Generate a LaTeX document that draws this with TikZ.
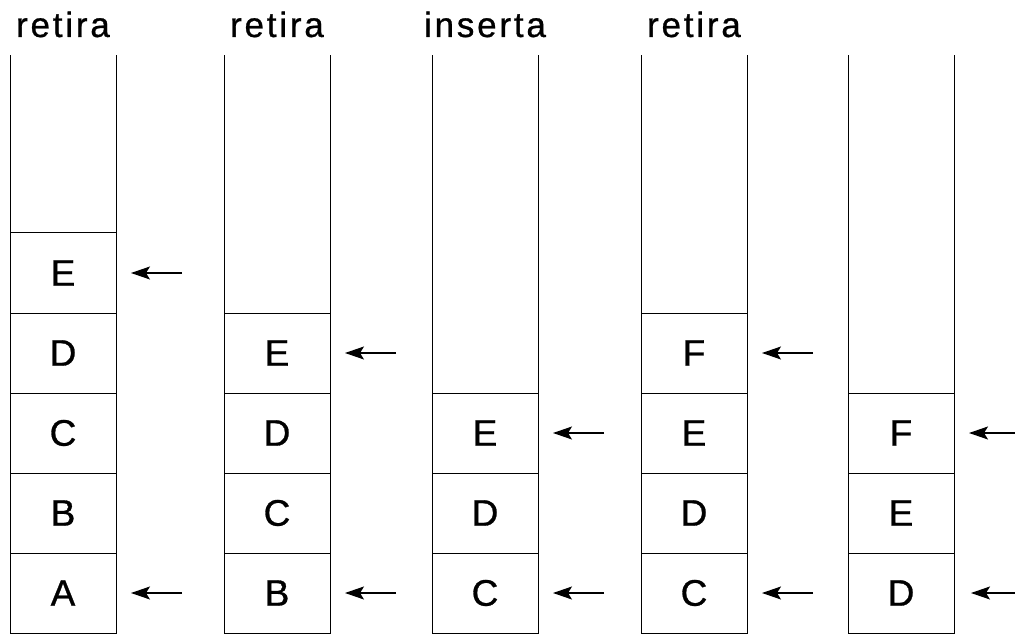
\documentclass[tikz,border=0pt]{standalone}
\usepackage{fontspec}
\setmainfont{Liberation Sans}
\usetikzlibrary{arrows.meta,positioning}
\tikzstyle{Cell}  = [draw, rectangle, line width=1pt, minimum width=106pt, minimum height=80pt, inner sep=0pt, outer sep=0pt, font=\fontsize{37}{42}\selectfont\addfontfeature{FakeBold=0.8}]
\tikzstyle{Wall}  = [line width=1pt]
\tikzstyle{Label} = [anchor=base, font=\fontsize{35}{40}\selectfont\addfontfeature{LetterSpace=8,FakeBold=0.8}]
\tikzset{Ptr/.style={line width=1.2pt, arrows={-Stealth[length=19pt,width=13pt,inset=4pt]}}}

\begin{document}
\begin{tikzpicture}[x=1pt, y=1pt]
    \useasboundingbox (0,0) rectangle (1015,633);
    \coordinate (top) at (0,578);

    % first stack
    \node[Cell] (a1) at (63,40)     {A};
    \node[Cell] (a2) [above=0pt of a1] {B};
    \node[Cell] (a3) [above=0pt of a2] {C};
    \node[Cell] (a4) [above=0pt of a3] {D};
    \node[Cell] (a5) [above=0pt of a4] {E};
    % second stack
    \node[Cell] (b1) at (277,40)    {B};
    \node[Cell] (b2) [above=0pt of b1] {C};
    \node[Cell] (b3) [above=0pt of b2] {D};
    \node[Cell] (b4) [above=0pt of b3] {E};
    % third stack
    \node[Cell] (c1) at (485,40)    {C};
    \node[Cell] (c2) [above=0pt of c1] {D};
    \node[Cell] (c3) [above=0pt of c2] {E};
    % fourth stack
    \node[Cell] (d1) at (694,40)    {C};
    \node[Cell] (d2) [above=0pt of d1] {D};
    \node[Cell] (d3) [above=0pt of d2] {E};
    \node[Cell] (d4) [above=0pt of d3] {F};
    % fifth stack
    \node[Cell] (e1) at (901,40)    {D};
    \node[Cell] (e2) [above=0pt of e1] {E};
    \node[Cell] (e3) [above=0pt of e2] {F};

    % tube walls
    \draw[Wall] (a1.south west) -- (a1.south west |- top);
    \draw[Wall] (a1.south east) -- (a1.south east |- top);
    \draw[Wall] (b1.south west) -- (b1.south west |- top);
    \draw[Wall] (b1.south east) -- (b1.south east |- top);
    \draw[Wall] (c1.south west) -- (c1.south west |- top);
    \draw[Wall] (c1.south east) -- (c1.south east |- top);
    \draw[Wall] (d1.south west) -- (d1.south west |- top);
    \draw[Wall] (d1.south east) -- (d1.south east |- top);
    \draw[Wall] (e1.south west) -- (e1.south west |- top);
    \draw[Wall] (e1.south east) -- (e1.south east |- top);

    % operations
    \node[Label] (op1) at (63,596)  {retira};
    \node[Label] (op2) at (277,596) {retira};
    \node[Label] (op3) at (485,596) {inserta};
    \node[Label] (op4) at (694,596) {retira};

    % top and bottom pointers
    \coordinate[right=15pt of a5.east] (a5h); \coordinate[right=66pt of a5.east] (a5t);
    \coordinate[right=15pt of a1.east] (a1h); \coordinate[right=66pt of a1.east] (a1t);
    \coordinate[right=15pt of b4.east] (b4h); \coordinate[right=66pt of b4.east] (b4t);
    \coordinate[right=15pt of b1.east] (b1h); \coordinate[right=66pt of b1.east] (b1t);
    \coordinate[right=15pt of c3.east] (c3h); \coordinate[right=66pt of c3.east] (c3t);
    \coordinate[right=15pt of c1.east] (c1h); \coordinate[right=66pt of c1.east] (c1t);
    \coordinate[right=15pt of d4.east] (d4h); \coordinate[right=66pt of d4.east] (d4t);
    \coordinate[right=15pt of d1.east] (d1h); \coordinate[right=66pt of d1.east] (d1t);
    \coordinate[right=15pt of e3.east] (e3h); \coordinate[right=66pt of e3.east] (e3t);
    \coordinate[right=17pt of e1.east] (e1h); \coordinate[right=66pt of e1.east] (e1t);
    \draw[Ptr] (a5t) -- (a5h);
    \draw[Ptr] (a1t) -- (a1h);
    \draw[Ptr] (b4t) -- (b4h);
    \draw[Ptr] (b1t) -- (b1h);
    \draw[Ptr] (c3t) -- (c3h);
    \draw[Ptr] (c1t) -- (c1h);
    \draw[Ptr] (d4t) -- (d4h);
    \draw[Ptr] (d1t) -- (d1h);
    \draw[Ptr] (e3t) -- (e3h);
    \draw[Ptr] (e1t) -- (e1h);
\end{tikzpicture}
\end{document}
